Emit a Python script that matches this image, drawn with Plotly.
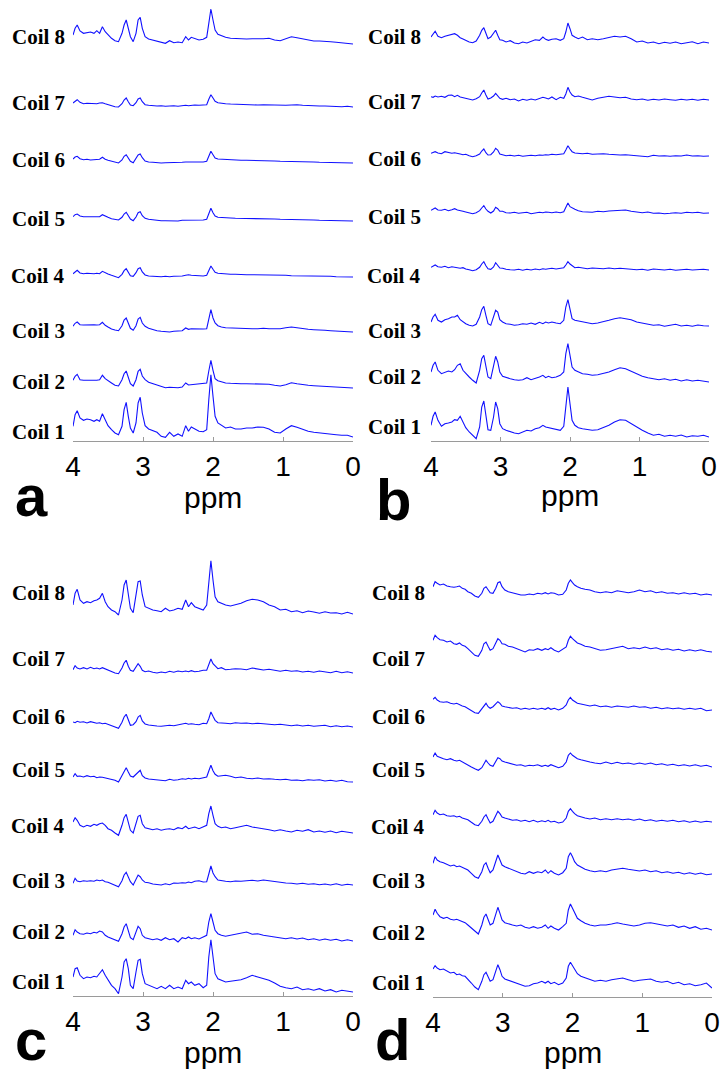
import plotly.graph_objects as go

# chemical shift grid (ppm), shared by all spectra
ppm = [4.00, 3.97, 3.94, 3.90, 3.85, 3.80, 3.75, 3.70, 3.66, 3.62,
       3.58, 3.54, 3.50, 3.45, 3.40, 3.35, 3.30, 3.27, 3.24, 3.21,
       3.18, 3.14, 3.10, 3.07, 3.04, 3.01, 2.97, 2.92, 2.86, 2.80,
       2.74, 2.68, 2.62, 2.56, 2.50, 2.44, 2.39, 2.35, 2.31, 2.26,
       2.20, 2.14, 2.09, 2.06, 2.03, 2.00, 1.97, 1.93, 1.88, 1.82,
       1.75, 1.68, 1.60, 1.52, 1.44, 1.36, 1.28, 1.20, 1.12, 1.04,
       0.96, 0.88, 0.80, 0.72, 0.64, 0.56, 0.48, 0.40, 0.32, 0.24,
       0.16, 0.08, 0.00]

coil_names = ["Coil 1", "Coil 2", "Coil 3", "Coil 4", "Coil 5", "Coil 6", "Coil 7", "Coil 8"]
tick_vals = [4, 3, 2, 1, 0]
tick_text = ["4", "3", "2", "1", "0"]
panel_letters = ["a", "b", "c", "d"]

# ---------- panel a (signal, a.u.) ----------
a1 = [10.7, 22.3, 26.3, 19, 16.7, 18, 17.3, 15.7, 17.3, 15.7,
      23.3, 17.3, 11.3, 7.3, 4, 2.3, 10.7, 27.3, 34.7, 20.7,
      9, 4, 14, 34, 39.7, 24, 11.3, 8, 6.7, 4.7,
      0.7, -0.3, 4.7, 0.7, 3, 0.7, 11.3, 5.7, 10, 8,
      5.7, 5.3, 7.3, 37.3, 62.3, 40.7, 20.7, 14, 11.3, 9,
      10, 8, 8, 9, 9, 10, 9.7, 8, 4.7, 4,
      8, 11.3, 9.7, 7.3, 5.7, 4.7, 4, 3, 3, 2.3,
      1.7, 1.7, 0]
a2 = [7.7, 11.7, 13.7, 8.3, 7.7, 7.7, 7.3, 7, 7.7, 8.3,
      12.7, 9.3, 7.7, 5, 2.7, 2, 8.3, 14.3, 17, 10.7,
      4.3, 2, 8.3, 16.7, 18.7, 12, 8.3, 5.7, 4.3, 2.7,
      1.3, 0.3, 0.7, 0.3, 0.3, 1, 5, 3, 3.3, 4,
      4.7, 5, 5, 17, 27.7, 17.7, 9.3, 7.3, 6, 5,
      4.7, 4.3, 4.3, 4.3, 4.3, 4.3, 4.3, 3.7, 2.7, 2,
      3.3, 5.3, 4.3, 3.3, 2.7, 2.3, 2, 1.7, 1.7, 1,
      0.7, 0.7, 0]
a3 = [5.7, 8.7, 10, 7.3, 7, 7.3, 7, 7.3, 7, 7.3,
      9.7, 6.7, 5, 3, 2, 1.3, 6.3, 12, 14, 8.7,
      3.7, 1.7, 6.3, 13, 14.7, 9, 5.7, 3.7, 2.3, 1.3,
      0.7, 0.3, 0, 0.7, 1, 1.3, 4, 2.7, 3.3, 3,
      3, 3, 3.3, 13, 22.3, 14, 9, 6.3, 5, 4.3,
      4, 3.7, 3.3, 3.3, 3.3, 3.3, 3.7, 3.3, 3, 3.3,
      4.3, 5, 4.3, 3.3, 2.7, 2.3, 1.7, 1.7, 1.3, 1,
      0.7, 0.7, 0]
a4 = [3.3, 5.3, 6.7, 4, 3.3, 3.7, 3.3, 3.3, 3.7, 3.3,
      5.7, 4, 3, 1.7, 0.3, -0.7, 2.7, 6.3, 8.3, 4.7,
      1.3, 0.7, 4.3, 8.3, 9.3, 5, 2, 1, 0.7, 0.7,
      0.3, 0.7, 0.3, 0.7, 0.7, 1, 1.7, 2.3, 1.7, 1.3,
      1.3, 1, 1.7, 6.7, 11, 7.7, 4.7, 3.7, 3.3, 3,
      2.7, 2.7, 2.3, 2.3, 2.3, 2.3, 2, 2, 1.7, 1.7,
      1.7, 1.3, 1.3, 1.3, 1, 1, 0.7, 0.7, 0.7, 0.3,
      0.3, 0.3, 0]
a5 = [4.3, 6.3, 7, 5, 4.3, 4.3, 4, 4.3, 4.7, 4.3,
      6.3, 4.7, 3.7, 2.3, 1.7, 1, 3.7, 7, 8.7, 5.3,
      2, 0.3, 4, 8.3, 9.3, 5.3, 2.7, 1.7, 1, 0.7,
      0.3, 0.3, 0, 0.3, 0, 0.7, 0.7, 0.3, 0.7, 1,
      1, 1, 1.7, 7.3, 12.7, 8.3, 5, 3.7, 3.3, 3,
      3, 2.7, 2.7, 2.7, 2.7, 2.3, 2.3, 2.3, 2, 1.7,
      1.7, 1.3, 1.3, 1.3, 1, 1, 0.7, 0.7, 0.7, 0.3,
      0.3, 0.3, 0]
a6 = [4, 6, 6.7, 4.3, 3.3, 3.7, 3, 3.3, 3, 3.7,
      5.7, 3.7, 2.7, 1.7, 0.7, 0, 3, 6.7, 8.3, 5,
      1.7, 0.3, 4, 8, 9, 5.3, 2, 1, 0.7, 0.3,
      0, 0.3, 0.3, 0.7, 0, 0.7, 1, 0.7, 1, 1,
      0.7, 1, 1.7, 6.7, 11.7, 8.3, 5, 4, 3.7, 3.3,
      3, 2.7, 2.7, 2.7, 2.7, 2.3, 2.3, 2, 2, 1.7,
      1.7, 1.3, 1.3, 1, 1, 1, 0.7, 0.7, 0.3, 0.7,
      0.3, 0.3, 0]
a7 = [4, 6, 7.3, 4.7, 3.3, 3.7, 3.3, 3, 3.3, 4,
      4.3, 3.3, 2.3, 1.3, 0.3, 0, 3.3, 7, 9, 5.3,
      2, 1.3, 4.3, 8, 9, 5.3, 2.3, 1.7, 1.3, 1,
      1.3, 0.7, 1, 1.3, 0.7, 1.3, 1.7, 1.3, 1.7, 2,
      1.7, 1.7, 2.3, 7.7, 12.3, 9, 5.7, 4.3, 3.7, 3.3,
      3, 2.7, 2.7, 2.3, 2.3, 2, 2.3, 2, 1.7, 1.3,
      1.7, 2, 2.3, 1.7, 1.3, 1.3, 1, 1, 0.7, 0.7,
      0.3, 0.7, 0]
a8 = [9, 15.7, 19, 13, 10.7, 11.3, 12, 10.7, 13.3, 10.7,
      17.3, 12.3, 9, 5.7, 3.3, 2.3, 10.7, 19, 24, 15.7,
      7.3, 2.3, 10.7, 24, 26.7, 15.7, 7.3, 5, 4, 2.3,
      1.3, 0.7, 3.3, 1.3, 2, 1.3, 7.3, 4, 6.7, 5.7,
      4, 4.7, 6.7, 20.7, 35, 24, 14, 9.7, 8, 6.7,
      5.7, 5.3, 5, 5, 5.3, 5, 5.3, 5.7, 4, 3.3,
      5.7, 7.3, 6.3, 5, 4, 3, 3, 2.3, 2.3, 1.7,
      1.3, 1, 0]

# ---------- panel b ----------
b1 = [11.7, 20.7, 25, 16.7, 10.7, 13.3, 14, 15, 17.3, 16.7,
      20.7, 15, 9.3, 5, 1.7, -1.7, 10, 30, 36, 21.7,
      7.3, 6.7, 20, 35, 28.3, 13.3, 8.3, 6.7, 5, 4,
      3.3, 5, 6.7, 6, 8.3, 9.3, 11.7, 10, 9.3, 8.3,
      7.3, 6.7, 10.7, 31.7, 50, 33.3, 16.7, 11.7, 9.3, 8.3,
      7.3, 6.7, 7.3, 9.3, 11.7, 15, 17.3, 16.7, 13.3, 9.3,
      6.7, 4, 1.7, 2.7, 0.7, 1.7, 0.7, 2, 0, 1.3,
      0.7, 1.7, 0]
b2 = [10, 16.7, 20, 11.7, 8.3, 10, 11, 10, 12.3, 16.7,
      18.3, 11.7, 8.3, 5, 1.7, -1, 11.7, 23.3, 26.7, 15,
      5, 3.3, 16.7, 25.7, 20, 10, 5.7, 4.3, 3.3, 2.3,
      1.7, 2.3, 4.3, 2.3, 3.3, 5, 6.7, 4.3, 5.7, 4.3,
      5, 6.7, 10, 28.3, 38.3, 25, 15, 11.7, 10, 8.3,
      7.7, 6.7, 7.3, 8.3, 10, 12.3, 14.3, 13.3, 11, 8.3,
      5.7, 4.3, 3.3, 2.3, 3.3, 1.7, 2.7, 1, 2.3, 1,
      1.7, 0.7, 0]
b3 = [4, 9, 11.7, 5.7, 4, 6.3, 7.3, 9, 9, 10.7,
      6.3, 4, 2.3, 0.7, 0, 1.7, 9, 16.3, 19.7, 10.7,
      2.3, 0.7, 9, 15.7, 14, 6.3, 4, 2.3, 1.7, 0.7,
      1.3, 2.3, 1.7, 3, 1.7, 3.7, 2.3, 4, 3, 4,
      3, 2.3, 5.7, 19, 26.3, 15.7, 7.3, 5.7, 5, 4,
      3, 2.3, 3, 4, 5.7, 7.3, 8.3, 7.3, 6.3, 4,
      3, 1.7, 0.7, 1.3, -0.3, 0.7, 1.7, 0, 0.7, -0.3,
      1, 0.3, 0]
b4 = [2.7, 4, 5, 3.3, 2.7, 3.7, 2.3, 3.3, 2.7, 2,
      1.7, 2.3, 1, 0.3, -0.7, 0.3, 2.7, 6, 8.3, 4.3,
      1.3, 0.7, 3, 7.3, 5, 2, 1.7, 0.7, 0.3, 0,
      0.7, -0.3, 0.7, 0, 1, 0.3, 1.3, 0.7, 1.3, 1.7,
      1, 1.7, 2.3, 5, 8.3, 6, 4, 2.3, 2.7, 1.7,
      1.3, 2, 1.7, 1.3, 2, 1.3, 1.7, 1, 0.7, 0.3,
      0.7, -0.3, 1, 0.3, 0, 0.7, -0.3, 0.3, 0.7, 0,
      0.3, 0.7, 0]
b5 = [2.7, 4, 5, 3, 2.7, 3.7, 2.3, 3.3, 4.3, 3,
      2, 1.7, 1, 0, -0.7, 0.3, 2.3, 5, 7.3, 4,
      1.7, 0, 2, 5.7, 4.3, 1.7, 1.7, 0.3, 0, 0.7,
      -0.3, 0.3, 0.7, -0.7, 0, 0.7, 0.3, 1, 0.7, 0.3,
      1, 0.3, 1.3, 5, 10, 6.3, 5, 3.7, 2.3, 1.3,
      1, 0.7, 1.7, 1.3, 2, 2.3, 2.7, 3, 1.7, 0.7,
      0.3, 1, -0.3, 0, -0.7, -0.3, 0.3, -0.3, 0.7, 0.3,
      0.7, -0.3, 0]
b6 = [2.7, 3.7, 4.3, 3, 2.3, 4.3, 3.7, 2.7, 3.3, 2.3,
      2, 1.3, 1.7, 0.3, -0.7, 0.3, 2, 5, 7, 3.3,
      1, 1.3, 4, 7.7, 6, 2, 1, 0.3, 0.7, 0,
      0.7, -0.3, 0.3, 0.7, 0.3, 1, 0.7, 1.3, 1, 1.7,
      1.3, 2, 2.3, 6, 10.3, 7, 4.3, 3, 2.7, 2.3,
      2.7, 1.7, 2, 2.3, 1.7, 1.3, 1, 1.3, 0.7, 0,
      -0.3, -0.7, 0.7, 0, 0.3, -0.3, 0.3, 0, 1, 0,
      0.3, -0.3, 0]
b7 = [3.3, 2.7, 4, 3, 3.7, 2.7, 4.7, 5, 3.3, 4.7,
      3, 2.3, 1.7, 0.7, 0, 1.3, 3.3, 7, 10, 5,
      1, 2, 4, 6.7, 4.3, 1.7, 0.7, 1.7, 0.3, 1,
      -1, 0.7, -0.3, 1, 0, 1.3, 2.7, 2, 1, 3,
      0.3, 2.7, 1.7, 6, 12.7, 8, 5, 3.3, 4, 2.7,
      1.3, 0, 1.7, 2.7, 3.7, 3, 2.3, 2.7, 1, 0.3,
      1, -0.3, 0.7, 0, 1, 0.3, -0.3, 0.7, 0, 0.7,
      -0.3, 0.7, 0]
b8 = [6, 9, 11.7, 6.7, 5.3, 6.7, 7.7, 8.3, 9.3, 7.7,
      5.3, 4, 2.7, 1, 0.3, 2, 7.7, 12.7, 15.3, 9.3,
      4.3, 6, 9.3, 12.7, 7.7, 3.3, 2.7, 1, 2.3, 0,
      -0.7, 1, 0, 2, 3.3, 2.7, 6, 3.7, 2.7, 3.7,
      4.3, 2.7, 4.3, 11, 20, 14.3, 7.7, 6, 4.3, 6,
      3.3, 4.3, 3.3, 4.3, 5.3, 6.7, 6, 6.7, 4.3, 1,
      2, 0, 1, -0.7, 0.7, -0.3, 1, -0.7, 0.3, 1.3,
      -0.7, 1, 0]

# ---------- panel c ----------
c1 = [15, 23.3, 24.3, 16.7, 13.3, 15, 14.3, 15.7, 15, 18.3,
      22.3, 16.7, 11.7, 6.7, 3.3, -1.7, 15, 30, 33.3, 23.3,
      6.7, 3.3, 20, 31.7, 32.7, 18.3, 8.3, 6.7, 5, 3.3,
      5.7, 3.3, 6.7, 3.3, 5, 3.3, 11.7, 8.3, 10, 6.7,
      8.3, 4.3, 6.7, 35, 52.3, 35, 18.3, 13.3, 11.7, 10,
      10.7, 11.7, 12.3, 14.3, 16.7, 15, 13.3, 11.7, 9, 5.7,
      4.3, 3.3, 5, 2.3, 3.3, 1.7, 3.3, 1, 2.3, 0,
      1.7, 0.7, 0]
c2 = [5.7, 11.3, 9, 7.3, 6.7, 8, 7.3, 8.7, 8, 10,
      9, 5.7, 4, 2.3, 1.3, -0.3, 7.3, 14, 17.3, 10.7,
      3.3, 1.3, 9, 14.7, 12.3, 5.7, 3.3, 2.3, 1.3, 2.3,
      0.7, 3.3, 1.3, 2.3, -1, 3.3, 2.3, 4, 2.3, 3.3,
      2, 4, 5.7, 19, 27.3, 19, 10.7, 7.3, 5.7, 4.7,
      5.7, 6.7, 7.3, 9, 6.7, 7.3, 5.7, 4.7, 4, 3.3,
      2.3, 3.3, 2, 3, 1.3, 2.3, 0.7, 2, 0.7, 1.7,
      0, 1.3, 0]
c3 = [1.7, 6.7, 4, 3.3, 4.3, 3.7, 4.3, 3.7, 5, 4.3,
      5, 3.3, 2.7, 1.3, 0, -1.7, 4.3, 10, 12.7, 7.3,
      3.3, 0, 5, 10, 8.3, 5, 2.7, 2.3, 1, 0.7,
      0, 1.3, 0.3, 2, 1.7, 2.3, 2, 3, 2.3, 3.7,
      4.3, 3, 3.3, 11, 19, 12, 8.3, 5, 4.3, 3.7,
      3.3, 4, 3.7, 4.3, 4.7, 4, 5, 4.3, 3.3, 2.7,
      2, 1.7, 1, 1.7, 0.7, 1.3, 0.3, 1, 0, 1.3,
      -0.3, 0.7, 0]
c4 = [11, 15.3, 12.7, 7.7, 6, 7.7, 6.7, 8.7, 7.7, 9.3,
      10, 7.7, 4.3, 2.7, 0, -2.3, 7.7, 15.3, 18.7, 11,
      2.7, 0, 11, 16.7, 17.7, 9.3, 5.3, 4.3, 3.3, 4.3,
      2.7, 3.7, 4.3, 3.3, 5.3, 4.3, 6.7, 4.3, 5.3, 6,
      4.3, 6, 7.7, 19.3, 27, 17.7, 9.3, 6.7, 5.3, 6,
      4.3, 5.3, 6.7, 7.7, 6, 5.3, 4.3, 3.3, 2, 3.3,
      2, 1, 2.7, 1.7, 3.3, 1, 2, 0.7, 2, 0.3,
      1.7, 1, 0]
c5 = [5, 8.3, 5.7, 6, 5, 6.3, 5.3, 5.7, 4.3, 5,
      4.7, 4, 3.7, 2.3, 1.7, 0, 6.7, 11.3, 14.3, 10,
      6, 5, 8, 10, 11.7, 6.3, 4, 3, 2.7, 1.7,
      2, 1.3, 2.7, 1.7, 2.3, 3.3, 2.7, 3.7, 3, 3.7,
      3.3, 4.3, 5, 11, 16.7, 11.3, 7.7, 5.7, 6.3, 6.7,
      5.7, 4.3, 5, 3.7, 3.3, 4, 3, 3.3, 2.7, 2.3,
      2.7, 1.7, 2, 1.3, 2.3, 1.7, 2.3, 1, 1.7, 0.7,
      1.7, 0.3, 0]
c6 = [5, 4.3, 5.7, 4.7, 5.3, 4, 5.3, 4.7, 3.7, 4.3,
      3.3, 3.7, 2.7, 1.7, 0.7, -1.3, 4.7, 10, 12.7, 6.7,
      1.7, 2.3, 5.3, 10, 11.7, 6, 3, 2, 1.3, 1,
      0.7, 1.3, 1.7, 1.3, 2, 2.7, 3.7, 2.7, 3.3, 2.7,
      2.3, 3.7, 3.3, 8.3, 15, 10.7, 6.7, 4.3, 3.7, 3.7,
      3.3, 4.3, 3.7, 4, 3.3, 3.7, 3.3, 2.7, 2.3, 2.7,
      1.7, 1.3, 2, 1, 1.7, 0.7, 1.3, 1.7, 0.3, 1.3,
      0.3, 1, 0]
c7 = [3.3, 7.3, 5, 4, 5.3, 4, 5.7, 4.3, 5, 4,
      5.3, 4, 3.3, 1.7, 0, -0.7, 5, 10, 12.7, 6.7,
      2.7, 1.7, 6.7, 9.3, 6.7, 2.7, 1.3, 2, 0.7, 0,
      1, 0.3, 1.7, 0.7, 2, 1.3, 2, 1.3, 2.3, 1.3,
      1.7, 2.7, 2.7, 8, 14, 9.3, 6.7, 4.3, 5.3, 3.3,
      3.7, 4.3, 4, 3.3, 5, 4, 3, 3.7, 2.7, 1.7,
      2.7, 1.7, 2.3, 1, 1.7, 0.7, 2, 1.3, 0.3, 1.7,
      0.3, 1.3, 0]
c8 = [9, 20.7, 24.7, 14, 10.7, 12.3, 11.3, 13.3, 14, 15.7,
      20.7, 12.3, 7.3, 4, 2.3, -1, 14, 29, 34, 20.7,
      5.7, 1.3, 17.3, 32.3, 33, 19, 7.3, 5.7, 4, 3.3,
      2.3, 5.7, 3, 4, 5.7, 4.7, 14, 7.3, 11.3, 7.3,
      5.7, 4, 9, 34, 53.3, 34, 17.3, 12.3, 10.7, 9,
      8, 9, 10.7, 13.3, 14.7, 14, 12.3, 9, 7.3, 4,
      4.7, 2.3, 3.3, 1.3, 3, 2, 0.7, 2.3, 1, 1.3,
      0, 1.7, 0]

# ---------- panel d ----------
d1 = [19, 22.3, 20, 18.3, 19, 16.7, 15, 15.7, 13.3, 14,
      12.3, 11.7, 9, 5, 1, -1.7, 6.7, 13.3, 15.7, 11.7,
      6.7, 8.3, 16.7, 23.3, 18.3, 11.7, 9, 7.7, 6.7, 5,
      3.3, 1.7, 2.3, 4.3, 5, 6.7, 5, 6.7, 4.3, 5.7,
      3.3, 5, 10, 21.7, 25.7, 22.3, 18.3, 14.3, 11.7, 10,
      8.3, 6.7, 7.7, 6.7, 8.3, 9, 10, 8.3, 6.7, 7.7,
      8.3, 9, 6.7, 5.7, 6.7, 4.3, 5.7, 3.3, 4.3, 2.3,
      3.3, 5, 0]
d2 = [15, 20.7, 16.7, 13.3, 11.7, 12.7, 10.7, 10, 10.7, 9.3,
      8.3, 7.3, 5, 1.7, -1.7, -4, 5, 12.7, 16, 10,
      5, 6.7, 16.7, 22.7, 16.7, 10, 7.3, 6, 5, 4,
      5, 2.7, 1.7, 3.3, 1.7, 2.7, 5, 1.7, 4, 1.7,
      0, 3.3, 6.7, 20, 26, 21.7, 16.7, 11.7, 9.3, 6.7,
      5, 4, 5, 5, 6, 7.3, 6, 5, 4, 5,
      6.7, 7.3, 6, 5, 4, 5, 2.7, 4, 1.7, 3.3,
      0.7, 1.7, 0]
d3 = [10.7, 17.3, 14, 12.3, 11.3, 10, 8, 9, 7.3, 8,
      6.7, 5.7, 4, 0.7, -2.7, -4.3, 2.3, 9, 11.3, 5.7,
      1.3, 4, 12.3, 19, 14, 9, 7.3, 5.7, 4, 2.3,
      0.7, 0, 2.3, 0.7, 2.3, 1.3, 4, 0.7, 3.3, 0.7,
      -1, 1.3, 5.7, 17.3, 21.3, 17.3, 12.3, 9, 6.7, 4.7,
      3.3, 2.3, 3.3, 2.3, 4, 4.7, 5.7, 4.7, 4, 3,
      4, 2.3, 3.3, 1.3, 2.3, 0.7, 1.7, 0, 1.3, -0.3,
      1, -0.7, 0]
d4 = [7.3, 11.7, 9, 7.3, 8, 6.3, 5.7, 6.3, 5, 5.7,
      4, 3, 2.3, -0.3, -2.7, -3.7, 0.7, 5, 7.3, 3,
      -1, 0.7, 6.3, 10.7, 8.3, 5, 4, 3, 1.7, 2.3,
      0.7, 1.7, 0.3, 1.7, 0, 1.3, 0.3, 1.7, 0, 0.7,
      -1, 0, 4, 10.7, 13.3, 10.7, 8.3, 6.3, 5, 4,
      3, 4, 2.3, 3.3, 2.3, 3.3, 2.3, 3, 1.7, 3,
      1.3, 2.3, 0.7, 1.7, 0.7, 1.7, 0.3, 1.3, -0.3, 1,
      -0.3, 0.7, 0]
d5 = [10, 14, 10.7, 9.3, 8.3, 7.3, 8.3, 6.7, 6, 6.7,
      5, 4, 2.3, 0, -1.7, -3.3, -0.7, 3.3, 6.7, 4,
      1.7, 0.7, 5, 9.3, 8.3, 6, 5, 4, 3.3, 1.7,
      2.3, 0.7, 1.7, 1.3, 2.3, 0.7, 1.7, 0.7, 2.3, 0.7,
      -0.7, 0.7, 5, 11.7, 14, 11.7, 10, 8.3, 7.3, 6,
      5, 4, 3.3, 5, 3.3, 4.7, 3.3, 4, 2.7, 4,
      2.7, 4, 2.3, 3.3, 1.7, 2.7, 1.3, 2.3, 1, 2.3,
      0.7, 1.7, 0]
d6 = [10.7, 12.7, 10, 8.3, 7.7, 8.3, 6.7, 6, 6.7, 5,
      4, 3.3, 1.7, -0.7, -2.7, -3.3, 1.7, 5, 6.7, 3.3,
      1.7, 3.3, 6, 8.3, 6.7, 4, 3.3, 2.7, 1.7, 2.3,
      0.7, 1.7, 0.7, 1.7, 0.7, 1.7, 0.7, 2.3, 0.7, 1.7,
      0, 1.7, 5, 10, 12.7, 10, 8.3, 6.7, 6, 5,
      4, 5, 3.3, 4, 2.7, 4, 3.3, 2.7, 4, 2.7,
      3.3, 1.7, 2.7, 1.3, 2.3, 1.3, 2, 0.7, 1.7, 0.7,
      1.7, -0.7, 0]
d7 = [11.7, 16.7, 14.3, 12.3, 11.7, 10, 11, 8.3, 7.7, 9,
      6.7, 5.7, 3.3, 0, -3.3, -4.3, 1.7, 8.3, 10, 5.7,
      1.7, 3.3, 10, 13.3, 11.7, 8.3, 7.7, 5.7, 5, 3.3,
      1.7, 0, 2.3, 1.7, 3.3, 1.7, 3.3, 2.3, 4.3, 1.7,
      0, 2.3, 5, 11.7, 15.7, 13.3, 11, 9, 7.7, 5.7,
      5, 3.3, 1.7, 2.3, 3.3, 5, 5.7, 3.3, 4.3, 3.3,
      5, 3.3, 4.3, 2.3, 3.3, 1.7, 2.7, 1, 2.3, 1,
      2.3, 0.7, 0]
d8 = [8.3, 13.3, 11.7, 10, 11, 9, 8.3, 7.7, 8.3, 9,
      6.7, 5.7, 3.3, 1.7, -1, -2.3, 1.7, 6.7, 8.3, 5,
      2.3, 1.7, 6.7, 12.3, 13.3, 8.3, 5, 3.3, 2.3, 1.7,
      0, 0, 1, 0.3, 1.7, 1, 2.3, 1, 2.3, 1.7,
      0, 0.7, 5, 11.7, 15, 12.3, 10, 8.3, 6.7, 5.7,
      5, 3.3, 2.3, 3.3, 2.3, 4.3, 3.3, 2.3, 3.3, 5,
      3.3, 4.3, 2.3, 3.3, 1.7, 2.3, 1, 2.3, 1, 1.7,
      0, 1, 0]

spectra = {
    "a": [a1, a2, a3, a4, a5, a6, a7, a8],
    "b": [b1, b2, b3, b4, b5, b6, b7, b8],
    "c": [c1, c2, c3, c4, c5, c6, c7, c8],
    "d": [d1, d2, d3, d4, d5, d6, d7, d8],
}
for key, lst in spectra.items():
    for i, s in enumerate(lst):
        if len(s) != len(ppm):
            raise ValueError(f"{key}{i+1} has {len(s)} points, expected {len(ppm)}")

# ---------------- layout (pixel geometry) ----------------
W, H = 723, 1074
# panel: x-left px, x-right px, top px, axis px
geom = {
    "a": (73, 353, 0, 441),
    "b": (431, 709, 0, 441),
    "c": (73, 353, 540, 996),
    "d": (433, 712, 540, 997),
}
# vertical offsets (px above axis) of each coil trace
offsets = {
    "a": [4, 53, 109, 164, 220, 278, 334, 397],
    "b": [4, 59, 115, 171, 228, 285, 341, 398],
    "c": [4, 55, 111, 163, 214, 269, 323, 382],
    "d": [9, 67, 123, 175, 230, 287, 345, 402],
}
label_y = {
    "a": [432, 382, 331, 276, 219, 160, 103, 37],
    "b": [427, 377, 331, 276, 217, 159, 102, 37],
    "c": [982, 932, 881, 826, 770, 717, 659, 593],
    "d": [983, 933, 881, 827, 770, 717, 659, 593],
}
label_right = {"a": 67, "b": 423, "c": 67, "d": 427}
letter_pos = {"a": (31, 496), "b": (394, 499), "c": (31, 1039), "d": (393, 1039)}
ppm_pos = {"a": 497, "b": 496, "c": 1052, "d": 1052}

fig = go.Figure()
annotations = []
for idx, key in enumerate(panel_letters):
    xl, xr, top, axis_y = geom[key]
    n = idx + 1
    xa = "x" if n == 1 else f"x{n}"
    ya = "y" if n == 1 else f"y{n}"
    for i, sig in enumerate(spectra[key]):
        fig.add_trace(go.Scatter(
            x=ppm, y=[offsets[key][i] + v for v in sig],
            mode="lines", line=dict(color="#1010ff", width=1.1),
            xaxis=xa, yaxis=ya, showlegend=False, hoverinfo="skip"))
        annotations.append(dict(
            text=f"<b>{coil_names[i]}</b>", x=label_right[key] / W, y=1 - label_y[key][i] / H,
            xref="paper", yref="paper", xanchor="right", yanchor="middle",
            showarrow=False,
            font=dict(family="Liberation Serif, Times New Roman, serif", size=21, color="black")))
    xkey = "xaxis" if n == 1 else f"xaxis{n}"
    ykey = "yaxis" if n == 1 else f"yaxis{n}"
    fig.update_layout(**{
        xkey: dict(domain=[xl / W, xr / W], range=[4, 0], anchor=ya,
                   showline=True, linecolor="#9a9a9a", linewidth=1,
                   ticks="inside", ticklen=4, tickcolor="#9a9a9a",
                   tickvals=tick_vals, ticktext=tick_text,
                   tickfont=dict(family="Liberation Sans, Arial", size=28, color="black"),
                   showgrid=False, zeroline=False, fixedrange=True, automargin=False),
        ykey: dict(domain=[1 - axis_y / H, 1 - top / H], range=[0, axis_y - top],
                   anchor=xa, visible=False, fixedrange=True, automargin=False),
    })
    annotations.append(dict(
        text="ppm", x=((xl + xr) / 2) / W, y=1 - ppm_pos[key] / H,
        xref="paper", yref="paper", xanchor="center", yanchor="middle", showarrow=False,
        font=dict(family="Liberation Sans, Arial", size=30, color="black")))
    lx, ly = letter_pos[key]
    annotations.append(dict(
        text=f"<b>{key}</b>", x=lx / W, y=1 - ly / H,
        xref="paper", yref="paper", xanchor="center", yanchor="middle", showarrow=False,
        font=dict(family="Liberation Sans, Arial", size=58, color="black")))

fig.update_layout(width=W, height=H, margin=dict(l=0, r=0, t=0, b=0, pad=0, autoexpand=False),
                  paper_bgcolor="white", plot_bgcolor="white",
                  annotations=annotations)
fig.write_html("out.html", config={"responsive": False, "displayModeBar": False},
               post_script="document.body.style.margin='0';document.body.style.overflow='hidden';")
